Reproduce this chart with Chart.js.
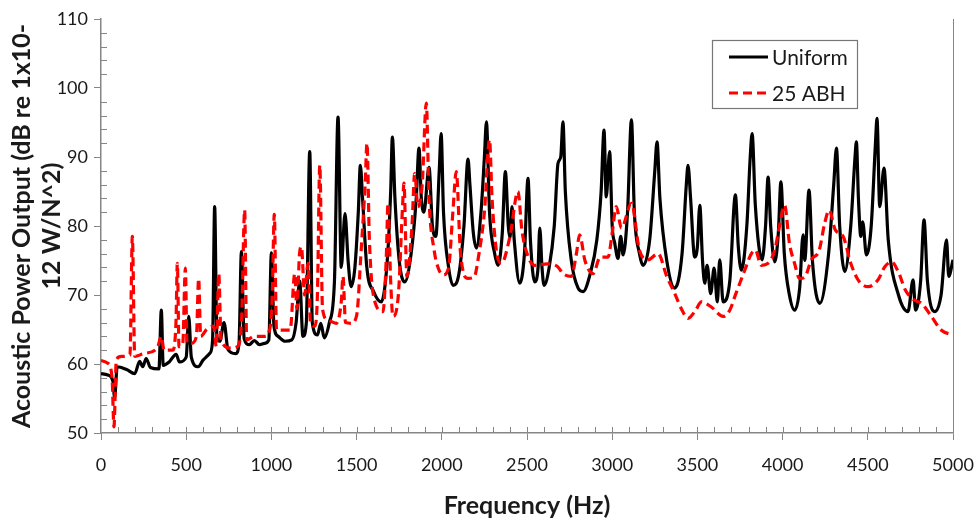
<!DOCTYPE html>
<html>
<head>
<meta charset="utf-8">
<script src="https://cdn.jsdelivr.net/npm/chart.js@4.4.1/dist/chart.umd.min.js"></script>
<style>
  html, body { margin: 0; padding: 0; background: #fff; }
  #wrap { width: 979px; height: 525px; }
</style>
</head>
<body>
<div id="wrap"><canvas id="myChart" width="979" height="525"></canvas></div>
<script>
// Uniform plate (black, solid)
const freqUniform = [0, 40, 70, 80, 95, 150, 198, 227, 245, 265, 290, 340, 354, 365, 400, 441, 460, 500, 515, 530,
  570, 600, 640, 655, 667, 680, 697, 722, 745, 790, 810, 824, 840, 870, 900, 930, 960, 985, 1000, 1015,
  1040, 1080, 1120, 1145, 1166, 1185, 1205, 1225, 1240, 1270, 1290, 1310, 1340, 1370, 1391, 1410, 1432, 1450, 1468, 1490,
  1510, 1522, 1535, 1560, 1600, 1645, 1680, 1700, 1710, 1725, 1750, 1782, 1820, 1850, 1866, 1880, 1895, 1925, 1945, 1965,
  1985, 1996, 2010, 2040, 2066, 2100, 2130, 2154, 2165, 2185, 2203, 2230, 2250, 2262, 2280, 2310, 2330, 2355, 2373, 2390,
  2400, 2412, 2425, 2457, 2485, 2506, 2520, 2545, 2565, 2575, 2588, 2600, 2630, 2660, 2682, 2698, 2711, 2725, 2760, 2800,
  2829, 2870, 2910, 2935, 2952, 2965, 2985, 3000, 3015, 3034, 3050, 3064, 3090, 3113, 3130, 3160, 3181, 3220, 3250, 3263,
  3280, 3320, 3367, 3410, 3435, 3445, 3460, 3484, 3500, 3514, 3530, 3543, 3557, 3578, 3598, 3617, 3631, 3651, 3690, 3723,
  3740, 3758, 3790, 3810, 3821, 3840, 3880, 3900, 3915, 3930, 3954, 3975, 3990, 4010, 4040, 4071, 4100, 4120, 4130, 4155,
  4175, 4218, 4270, 4300, 4316, 4335, 4365, 4400, 4425, 4433, 4445, 4459, 4470, 4492, 4520, 4545, 4554, 4570, 4595, 4620,
  4680, 4736, 4766, 4780, 4810, 4830, 4850, 4893, 4930, 4962, 4975, 5000];
const dbUniform = [58.6, 58.4, 57.5, 55.1, 59.6, 59.2, 58.6, 60.4, 59.6, 60.8, 59.5, 59.3, 67.8, 59.8, 60.3, 61.4, 60.3, 61.0, 66.9, 61.0,
  59.6, 60.6, 61.6, 63.5, 82.8, 64.0, 63.3, 66.0, 62.1, 61.5, 63.0, 76.3, 63.7, 62.8, 63.4, 62.8, 63.0, 63.5, 76.1, 65.5,
  64.0, 63.3, 63.5, 66.0, 72.0, 64.0, 66.0, 90.8, 66.0, 64.2, 65.9, 63.8, 66.0, 72.0, 95.8, 74.0, 81.8, 75.0, 71.2, 74.0,
  82.0, 88.8, 84.0, 74.0, 70.5, 69.0, 75.0, 85.0, 92.9, 84.0, 75.0, 71.9, 76.0, 84.0, 91.3, 84.0, 82.0, 88.5, 80.0, 78.5,
  88.0, 93.4, 82.0, 74.0, 71.4, 73.0, 80.0, 89.7, 86.0, 79.0, 76.8, 82.0, 90.0, 95.1, 82.0, 76.0, 74.3, 79.0, 87.9, 80.0,
  78.3, 82.8, 78.0, 71.7, 76.0, 86.9, 78.0, 71.9, 74.0, 79.7, 74.0, 71.4, 74.0, 80.0, 89.1, 90.0, 95.1, 85.0, 75.0, 71.0,
  70.5, 73.0, 78.0, 85.0, 93.9, 84.2, 90.8, 80.0, 77.5, 75.3, 78.5, 75.8, 82.0, 95.4, 82.0, 76.0, 74.3, 78.0, 88.0, 92.2,
  84.0, 75.0, 71.0, 76.0, 86.0, 88.8, 84.0, 75.5, 77.0, 83.0, 75.0, 71.7, 74.3, 70.2, 73.9, 69.0, 75.1, 69.0, 72.0, 84.5,
  77.0, 73.6, 80.0, 90.0, 93.4, 83.0, 75.1, 80.0, 87.1, 80.0, 74.8, 79.0, 86.4, 76.0, 70.0, 67.8, 71.0, 78.7, 75.0, 85.2,
  75.0, 68.8, 76.0, 86.0, 91.3, 80.0, 73.4, 80.0, 90.0, 92.2, 84.0, 78.5, 80.6, 75.8, 80.0, 92.0, 95.6, 82.8, 88.4, 78.0,
  70.0, 67.6, 72.2, 67.8, 72.0, 80.9, 72.0, 67.6, 70.0, 78.0, 72.7, 75.1];

// 25 ABH plate (red, dashed)
const freqAbh = [0, 40, 65, 76, 90, 120, 170, 184, 198, 250, 330, 354, 370, 420, 440, 448, 458, 480, 495, 505,
  530, 560, 573, 585, 620, 660, 677, 691, 705, 760, 800, 825, 843, 855, 900, 960, 990, 1005, 1017, 1030,
  1060, 1110, 1137, 1150, 1165, 1176, 1195, 1215, 1230, 1255, 1270, 1284, 1300, 1330, 1380, 1410, 1420, 1435, 1469, 1500,
  1528, 1550, 1561, 1575, 1610, 1655, 1675, 1684, 1700, 1713, 1745, 1770, 1778, 1795, 1825, 1841, 1860, 1885, 1909, 1925,
  1955, 1978, 2007, 2040, 2065, 2085, 2110, 2154, 2190, 2215, 2250, 2280, 2295, 2320, 2350, 2400, 2447, 2470, 2500, 2545,
  2620, 2680, 2711, 2760, 2790, 2809, 2840, 2888, 2930, 2976, 3000, 3024, 3054, 3113, 3160, 3210, 3269, 3320, 3367, 3410,
  3445, 3490, 3523, 3580, 3651, 3690, 3720, 3778, 3817, 3840, 3875, 3915, 3954, 3985, 4012, 4040, 4070, 4100, 4130, 4169,
  4215, 4247, 4273, 4310, 4355, 4400, 4443, 4502, 4560, 4600, 4639, 4680, 4721, 4770, 4815, 4873, 4932, 5000];
const dbAbh = [60.5, 60.1, 58.0, 50.9, 60.6, 61.1, 61.3, 78.5, 61.1, 61.5, 62.3, 64.0, 62.0, 62.0, 66.0, 74.6, 62.5, 63.0, 73.9, 63.0,
  63.0, 64.0, 72.4, 64.0, 65.0, 65.5, 62.5, 73.1, 63.5, 62.3, 62.5, 66.4, 82.3, 63.5, 64.0, 64.0, 65.0, 70.0, 81.7, 65.0,
  64.9, 64.9, 73.1, 68.0, 76.0, 77.0, 70.0, 74.6, 65.9, 65.5, 70.0, 88.8, 68.0, 66.4, 65.9, 69.0, 72.7, 66.0, 65.9, 67.0,
  77.0, 86.0, 92.0, 78.0, 68.8, 67.6, 76.0, 83.3, 72.0, 66.9, 70.0, 83.0, 86.2, 72.7, 80.0, 87.6, 82.8, 86.0, 97.8, 84.0,
  76.5, 74.0, 72.9, 74.0, 82.0, 87.9, 76.0, 72.4, 72.6, 75.5, 82.0, 92.5, 84.0, 76.5, 74.6, 78.5, 85.0, 79.4, 76.0, 74.3,
  74.5, 74.1, 73.1, 72.7, 76.0, 78.7, 75.0, 73.1, 75.5, 75.5, 79.0, 82.8, 79.7, 83.3, 76.5, 75.1, 76.0, 72.7, 70.2, 67.8,
  66.6, 67.8, 69.0, 68.3, 66.9, 67.8, 69.8, 73.6, 76.0, 76.5, 74.3, 74.6, 76.5, 80.4, 83.0, 77.5, 74.6, 72.4, 72.6, 75.1,
  76.5, 80.4, 82.3, 79.4, 78.5, 74.6, 72.2, 71.2, 72.2, 74.1, 74.8, 73.3, 70.7, 69.3, 68.8, 66.9, 64.9, 64.2];

const legendLabels = ['Uniform', '25 ABH'];
const xTitle = 'Frequency (Hz)';
const yTitle = ['Acoustic Power Output (dB re 1x10-', '12 W/N^2)'];

const axisGray = '#868686';
const textColor = '#1a1a1a';
const fam = 'Lato, "Open Sans", sans-serif';
const tickFont = { family: fam, size: 18 };
const titleFont = { family: fam, size: 25, weight: 'bold' };

function toPoints(xs, ys) {
  return xs.map((x, i) => ({ x: x, y: ys[i] }));
}

// minor ticks, right border and the boxed legend
const extras = {
  id: 'extras',
  afterDraw(chart) {
    const ctx = chart.ctx;
    const a = chart.chartArea;
    const xs = chart.scales.x;
    const ys = chart.scales.y;
    ctx.save();
    ctx.strokeStyle = axisGray;
    ctx.lineWidth = 1;
    ctx.beginPath();
    for (let f = 100; f < 5000; f += 100) {
      const px = Math.round(xs.getPixelForValue(f)) + 0.5;
      ctx.moveTo(px, a.bottom);
      ctx.lineTo(px, a.bottom - 6);
    }
    for (let d = 52; d < 110; d += 2) {
      if (d % 10 === 0) continue;
      const py = Math.round(ys.getPixelForValue(d)) + 0.5;
      ctx.moveTo(a.left, py);
      ctx.lineTo(a.left + 6, py);
    }
    ctx.moveTo(a.right + 0.5, a.top);
    ctx.lineTo(a.right + 0.5, a.bottom);
    ctx.stroke();

    // legend
    const bx = 712, by = 40, bw = 145, bh = 68;
    ctx.fillStyle = '#fff';
    ctx.fillRect(bx, by, bw, bh);
    ctx.strokeStyle = '#777';
    ctx.lineWidth = 1.2;
    ctx.strokeRect(bx + 0.5, by + 0.5, bw, bh);
    chart.data.datasets.forEach((ds, i) => {
      const ly = by + 17 + i * 36;
      ctx.beginPath();
      ctx.strokeStyle = ds.borderColor;
      ctx.lineWidth = 3;
      ctx.setLineDash(ds.borderDash || []);
      ctx.moveTo(729, ly);
      ctx.lineTo(768, ly);
      ctx.stroke();
      ctx.setLineDash([]);
      ctx.fillStyle = textColor;
      ctx.font = '21px ' + fam;
      ctx.textBaseline = 'middle';
      ctx.textAlign = 'left';
      ctx.fillText(ds.label, 772, ly + 1);
    });
    ctx.restore();
  }
};

const ctx = document.getElementById('myChart').getContext('2d');
const myChart = new Chart(ctx, {
  type: 'scatter',
  data: {
    datasets: [{
      label: legendLabels[0],
      data: toPoints(freqUniform, dbUniform),
      showLine: true,
      borderColor: '#000000',
      backgroundColor: '#000000',
      borderWidth: 3.2,
      pointRadius: 0,
      cubicInterpolationMode: 'monotone',
      order: 1
    }, {
      label: legendLabels[1],
      data: toPoints(freqAbh, dbAbh),
      showLine: true,
      borderColor: '#ff0000',
      backgroundColor: '#ff0000',
      borderWidth: 3.2,
      borderDash: [9, 5],
      pointRadius: 0,
      cubicInterpolationMode: 'monotone',
      order: 0
    }]
  },
  options: {
    responsive: false,
    animation: false,
    layout: { padding: { left: 0, right: 26, top: 19, bottom: 0 } },
    plugins: {
      legend: { display: false },
      tooltip: { enabled: false }
    },
    scales: {
      x: {
        type: 'linear',
        min: 0,
        max: 5000,
        ticks: { stepSize: 500, color: textColor, font: tickFont, padding: 14, maxRotation: 0,
          callback: (v) => String(v) },
        grid: { display: true, drawOnChartArea: false, drawTicks: true, tickLength: 7, color: axisGray },
        border: { color: axisGray, width: 1.5 },
        title: { display: true, text: xTitle, color: textColor, font: titleFont, padding: { top: 4 } },
        afterFit(scale) { scale.height = 92; scale.paddingLeft = 0; scale.paddingRight = 0; }
      },
      y: {
        min: 50,
        max: 110,
        ticks: { stepSize: 10, color: textColor, font: tickFont, padding: 6, callback: (v) => String(v) },
        grid: { display: true, drawOnChartArea: false, drawTicks: true, tickLength: 7, color: axisGray },
        border: { color: axisGray, width: 1.5 },
        title: { display: true, text: yTitle, color: textColor, font: titleFont, padding: { top: 7, bottom: 0 } },
        afterFit(scale) { scale.width = 101; scale.paddingTop = 0; scale.paddingBottom = 0; }
      }
    }
  },
  plugins: [extras]
});
</script>
</body>
</html>
